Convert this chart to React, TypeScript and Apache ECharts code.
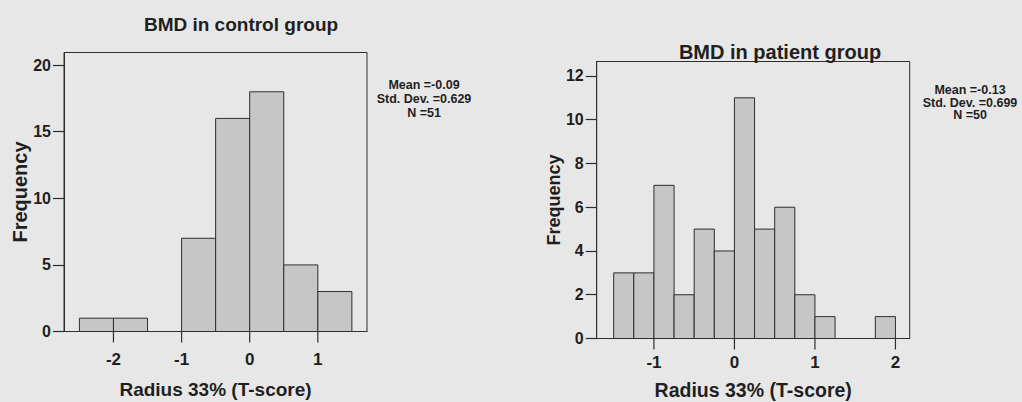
import React, { useEffect, useRef } from "react";
import * as echarts from "echarts";

// ---- Data ----
const controlTitle = "BMD in control group";
const patientTitle = "BMD in patient group";
const xAxisName = "Radius 33% (T-score)";
const yAxisName = "Frequency";

const controlBinStarts = [-2.5, -2.0, -1.0, -0.5, 0.0, 0.5, 1.0];
const controlCounts = [1, 1, 7, 16, 18, 5, 3];
const controlBinWidth = 0.5;
const controlXTicks = [-2, -1, 0, 1];
const controlYTicks = [0, 5, 10, 15, 20];
const controlStats = ["Mean =-0.09", "Std. Dev. =0.629", "N =51"];

const patientBinStarts = [-1.5, -1.25, -1.0, -0.75, -0.5, -0.25, 0.0, 0.25, 0.5, 0.75, 1.0, 1.75];
const patientCounts = [3, 3, 7, 2, 5, 4, 11, 5, 6, 2, 1, 1];
const patientBinWidth = 0.25;
const patientXTicks = [-1, 0, 1, 2];
const patientYTicks = [0, 2, 4, 6, 8, 10, 12];
const patientStats = ["Mean =-0.13", "Std. Dev. =0.699", "N =50"];

const FONT = "'Liberation Sans', Arial, Helvetica, sans-serif";
const BG = "#e7e7e7";
const BAR = "#c6c6c6";
const LINE = "#2e2e2e";
const TEXT = "#1f1f1f";

function binsToData(starts: number[], counts: number[], w: number) {
  return starts.map((s, i) => [s, s + w, counts[i]]);
}

const renderBar = (params: any, api: any) => {
  const x0 = api.value(0);
  const x1 = api.value(1);
  const y = api.value(2);
  const p0 = api.coord([x0, 0]);
  const p1 = api.coord([x1, y]);
  return {
    type: "rect",
    shape: { x: p0[0], y: p1[1], width: p1[0] - p0[0], height: p0[1] - p1[1] },
    style: { fill: BAR, stroke: LINE, lineWidth: 1 },
  };
};

// x-axis tick marks below the axis line, placed through the axis scale
const renderXTick = (params: any, api: any) => {
  const p = api.coord([api.value(0), 0]);
  return {
    type: "line",
    shape: { x1: p[0], y1: p[1], x2: p[0], y2: p[1] + 11 },
    style: { stroke: LINE, lineWidth: 1.2 },
  };
};

function xAxisCfg(gridIndex: number, min: number, max: number, ticks: number[], labelMargin: number, nameGap: number, nameSize: number) {
  return {
    type: "value",
    gridIndex,
    position: "bottom",
    min,
    max,
    name: xAxisName,
    nameLocation: "middle",
    nameGap,
    nameMoveOverlap: false,
    nameTextStyle: { fontSize: nameSize, fontWeight: "bold", color: TEXT, fontFamily: FONT },
    axisLine: { show: true, onZero: false, lineStyle: { color: LINE, width: 1 } },
    axisTick: { show: false },
    axisLabel: {
      show: true,
      customValues: ticks,
      margin: labelMargin,
      fontSize: 17,
      fontWeight: "bold",
      color: TEXT,
      fontFamily: FONT,
    },
    splitLine: { show: false },
  };
}

function yAxisCfg(gridIndex: number, max: number, ticks: number[], nameGap: number, nameSize: number) {
  return {
    type: "value",
    gridIndex,
    position: "left",
    min: 0,
    max,
    name: yAxisName,
    nameLocation: "middle",
    nameGap,
    nameMoveOverlap: false,
    nameTextStyle: { fontSize: nameSize, fontWeight: "bold", color: TEXT, fontFamily: FONT },
    axisLine: { show: true, onZero: false, lineStyle: { color: LINE, width: 1 } },
    axisTick: { show: true, inside: false, length: 11, customValues: ticks, lineStyle: { color: LINE, width: 1.2 } },
    axisLabel: {
      show: true,
      customValues: ticks,
      margin: 13,
      fontSize: 16,
      fontWeight: "bold",
      color: TEXT,
      fontFamily: FONT,
    },
    splitLine: { show: false },
  };
}

export default function App() {
  const ref = useRef<HTMLDivElement>(null);

  useEffect(() => {
    document.body.style.margin = "0";
    document.body.style.background = BG;
    const chart = echarts.init(ref.current!, null, { renderer: "svg" });
    chart.setOption({
      animation: false,
      backgroundColor: BG,
      textStyle: { fontFamily: FONT },
      grid: [
        { left: 64, top: 52.5, width: 303, height: 279, show: true, borderColor: LINE, borderWidth: 1, backgroundColor: "transparent", containLabel: false, outerBoundsMode: "none" },
        { left: 596.7, top: 61.5, width: 313, height: 277, show: true, borderColor: LINE, borderWidth: 1, backgroundColor: "transparent", containLabel: false, outerBoundsMode: "none" },
      ],
      xAxis: [
        xAxisCfg(0, -2.726, 1.722, controlXTicks, 19, 48, 19),
        xAxisCfg(1, -1.711, 2.177, patientXTicks, 15.5, 41, 19.5),
      ],
      yAxis: [
        yAxisCfg(0, 20.95, controlYTicks, 34, 20),
        yAxisCfg(1, 12.66, patientYTicks, 34, 18),
      ],
      series: [
        {
          type: "custom",
          xAxisIndex: 0,
          yAxisIndex: 0,
          renderItem: renderBar,
          encode: { x: [0, 1], y: 2 },
          data: binsToData(controlBinStarts, controlCounts, controlBinWidth),
        },
        {
          type: "custom",
          xAxisIndex: 1,
          yAxisIndex: 1,
          renderItem: renderBar,
          encode: { x: [0, 1], y: 2 },
          data: binsToData(patientBinStarts, patientCounts, patientBinWidth),
        },
        {
          type: "custom",
          xAxisIndex: 0,
          yAxisIndex: 0,
          clip: false,
          silent: true,
          renderItem: renderXTick,
          encode: { x: 0 },
          data: controlXTicks.map((v) => [v]),
        },
        {
          type: "custom",
          xAxisIndex: 1,
          yAxisIndex: 1,
          clip: false,
          silent: true,
          renderItem: renderXTick,
          encode: { x: 0 },
          data: patientXTicks.map((v) => [v]),
        },
      ],
      graphic: [
        {
          type: "text",
          x: 241,
          y: 24,
          style: { text: controlTitle, align: "center", verticalAlign: "middle", fontSize: 19, fontWeight: "bold", fontFamily: FONT, fill: TEXT },
        },
        {
          type: "text",
          x: 780,
          y: 52,
          style: { text: patientTitle, align: "center", verticalAlign: "middle", fontSize: 20, fontWeight: "bold", fontFamily: FONT, fill: TEXT },
        },
        {
          type: "text",
          x: 424,
          y: 99,
          style: { text: controlStats.join("\n"), align: "center", verticalAlign: "middle", fontSize: 12.5, lineHeight: 14, fontWeight: "bold", fontFamily: FONT, fill: TEXT },
        },
        {
          type: "text",
          x: 970,
          y: 102.5,
          style: { text: patientStats.join("\n"), align: "center", verticalAlign: "middle", fontSize: 12.5, lineHeight: 12.5, fontWeight: "bold", fontFamily: FONT, fill: TEXT },
        },
      ],
    });
    return () => chart.dispose();
  }, []);

  return <div ref={ref} style={{ position: "fixed", left: 0, top: 0, width: 1022, height: 402 }} />;
}
